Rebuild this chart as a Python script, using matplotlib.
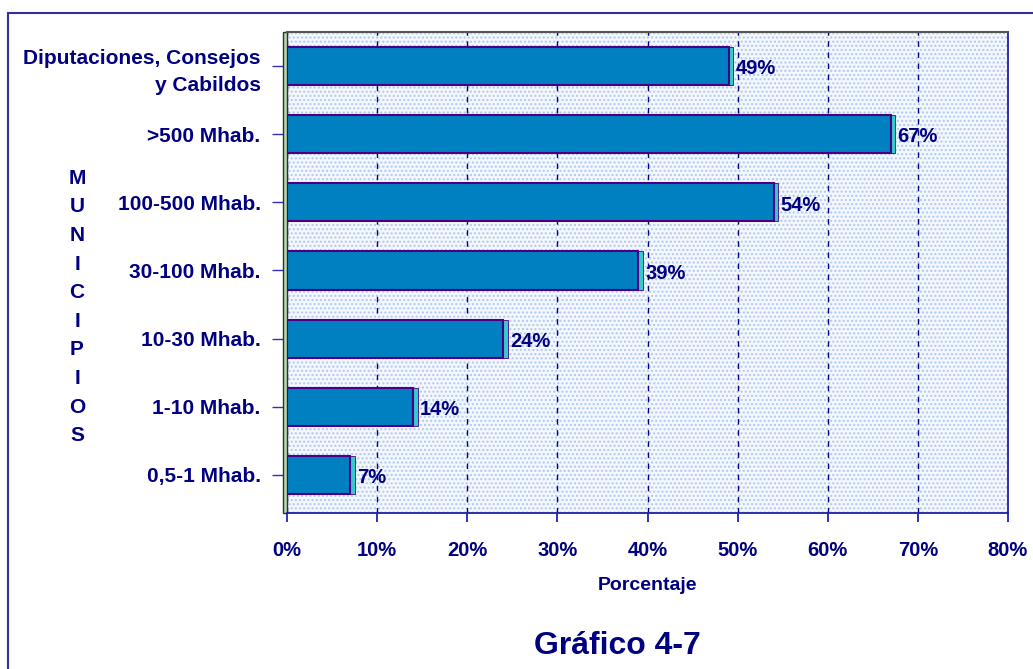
import matplotlib.pyplot as plt
from matplotlib.patches import Rectangle

# data
categories = ['Diputaciones, Consejos\ny Cabildos', '>500 Mhab.', '100-500 Mhab.',
              '30-100 Mhab.', '10-30 Mhab.', '1-10 Mhab.', '0,5-1 Mhab.']
values = [49, 67, 54, 39, 24, 14, 7]
xticks = [0, 10, 20, 30, 40, 50, 60, 70, 80]

NAVY = '#000080'
BAR = '#0080C0'
SIDE = '#33CCCC'
EDGE = '#4B0082'

plt.rcParams['font.family'] = ['Liberation Sans', 'DejaVu Sans']

fig = plt.figure(figsize=(10.33, 6.69), dpi=100)
ax = fig.add_axes([287 / 1033, 1 - 513 / 669, (1008 - 287) / 1033, (513 - 32) / 669])

# outer frame
fig.patches.append(Rectangle((8 / 1033, -0.1), 1.1, 1 - 13 / 669 + 0.1,
                             transform=fig.transFigure, fill=False,
                             edgecolor='#3030A0', linewidth=1.5))

# dotted background
ax.set_facecolor('#F4F8FE')
ax.add_patch(Rectangle((0, 0), 1, 1, transform=ax.transAxes, fill=False,
                       hatch='....', edgecolor='#B0C8F0', linewidth=0, zorder=0))

ypos = list(range(len(categories)))
h = 0.56
# 3d side of the bars
ax.barh(ypos, [0.5] * len(values), left=values, height=h, color=SIDE,
        edgecolor=EDGE, linewidth=0.6, zorder=3)
ax.barh(ypos, values, height=h, color=BAR, edgecolor=EDGE, linewidth=1.5, zorder=4)

for y, v in zip(ypos, values):
    ax.text(v + 0.75, y + 0.04, f'{v}%', va='center', ha='left', fontsize=14.5,
            fontweight='bold', color=NAVY, zorder=5)

# left wall
ax.add_patch(Rectangle((-0.45, 0), 0.45, 1, transform=ax.get_xaxis_transform(),
                       facecolor='#B8D8B0', edgecolor='#303030', linewidth=1,
                       clip_on=False, zorder=2))

ax.set_xlim(0, 80)
ax.set_ylim(6.56, -0.5)
ax.set_xticks(xticks)
ax.set_xticklabels([f'{t}%' for t in xticks], fontsize=14.5, fontweight='bold', color=NAVY)
ax.set_yticks(ypos)
ax.set_yticklabels(categories, fontsize=15, fontweight='bold', color=NAVY,
                   linespacing=1.5)
ax.tick_params(axis='x', direction='out', length=6.5, width=1.3, color='#2020C0', pad=14)
ax.tick_params(axis='y', direction='out', length=11, width=1, color='#3030C0', pad=8)

ax.grid(axis='x', color=NAVY, linestyle=(0, (4, 4)), linewidth=1, zorder=1)
ax.set_axisbelow(True)

for s in ['bottom', 'right']:
    ax.spines[s].set_color('#2020A0')
    ax.spines[s].set_linewidth(1.3)
ax.spines['top'].set_color('#555555')
ax.spines['top'].set_linewidth(1.5)
ax.spines['left'].set_visible(False)

ax.set_xlabel('Porcentaje', fontsize=14, fontweight='bold', color=NAVY, labelpad=12)

fig.text(77 / 1033, 1 - 307 / 669, '\n'.join('MUNICIPIOS'), ha='center', va='center',
         fontsize=15, fontweight='bold', color=NAVY, linespacing=1.64)

fig.text(617 / 1033, 1 - 646 / 669, 'Gráfico 4-7', ha='center', va='center',
         fontsize=23, fontweight='bold', color=NAVY)

fig.savefig('out.png', dpi=100)
